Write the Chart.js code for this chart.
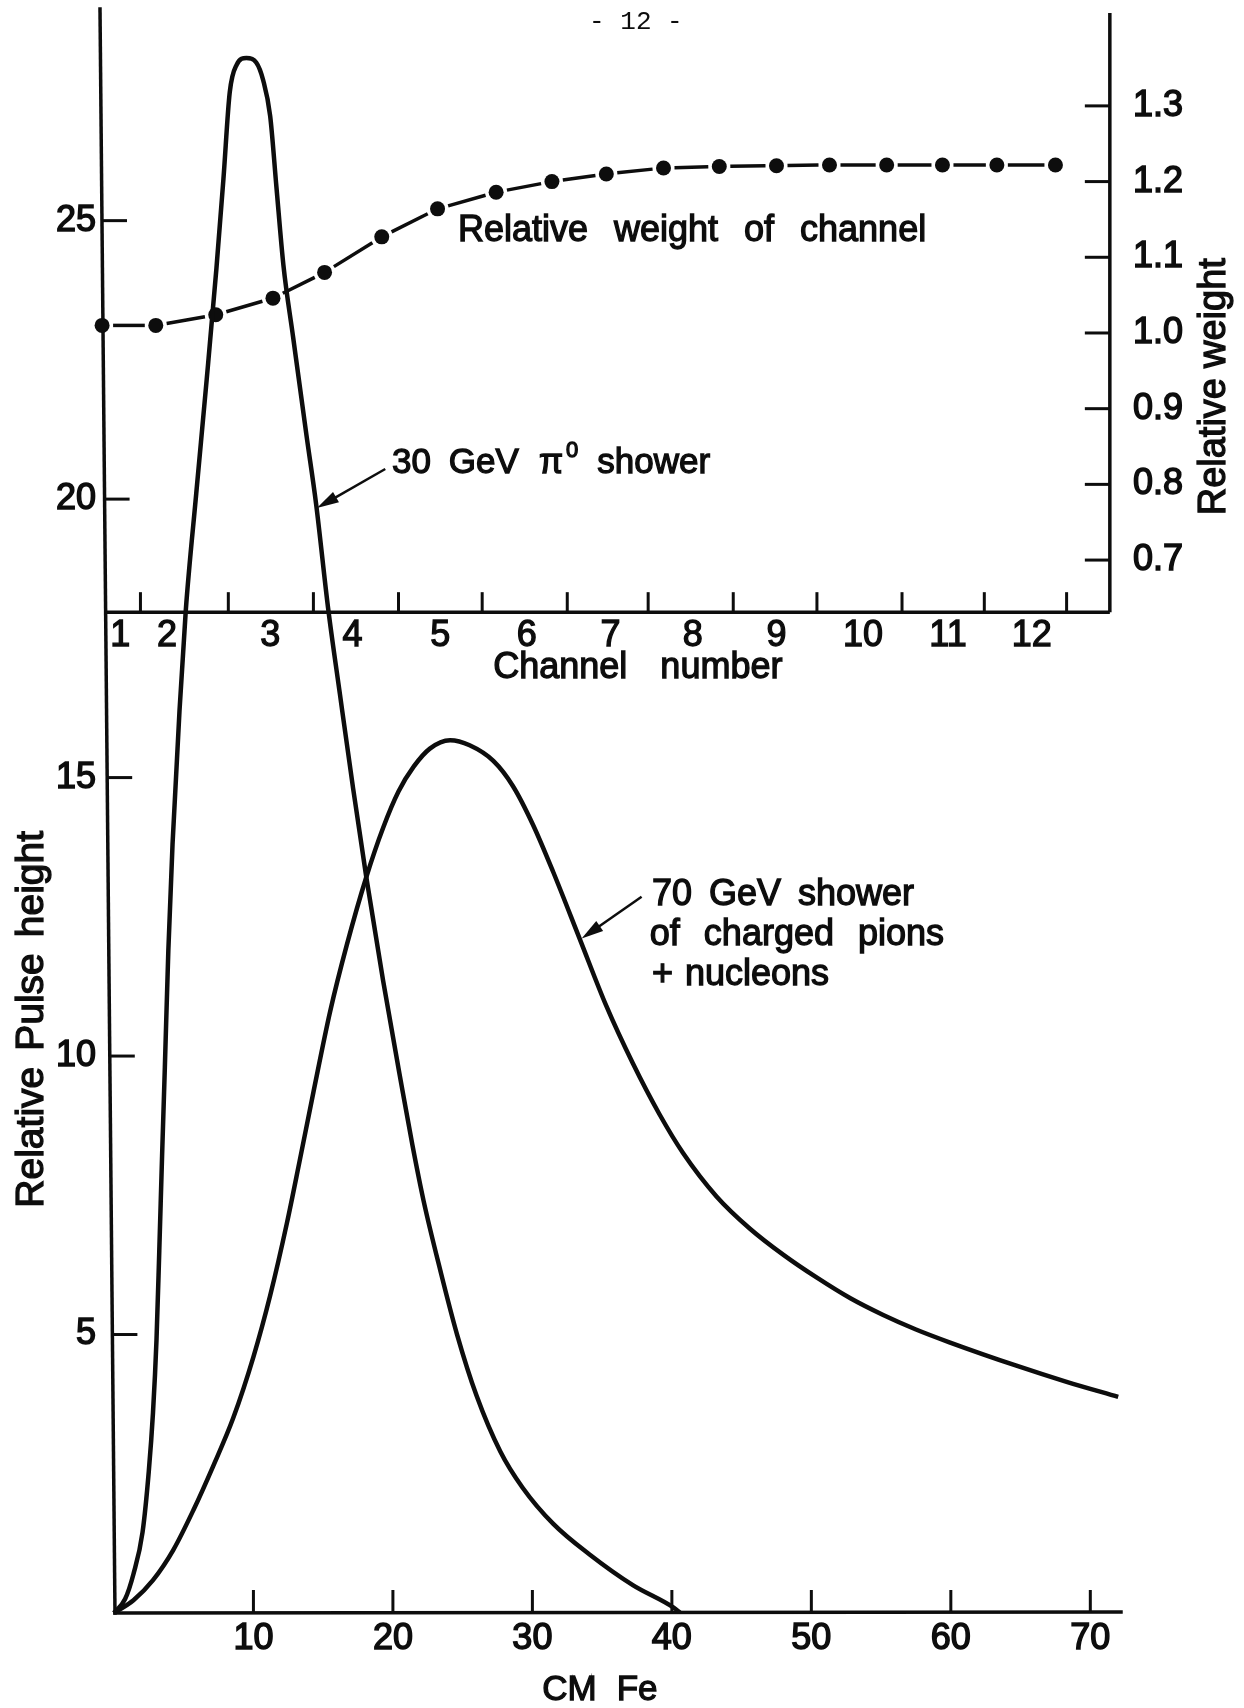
<!DOCTYPE html>
<html lang="en">
<head>
<meta charset="utf-8">
<title>Relative pulse height along the Fe absorber</title>
<script src="https://cdn.jsdelivr.net/npm/chart.js@4.4.1/dist/chart.umd.min.js"></script>
<style>
  html, body { margin: 0; padding: 0; background: #ffffff; }
  canvas { display: block; }
</style>
</head>
<body>
<canvas id="chart" width="1244" height="1708"></canvas>
<script>
  "use strict";

  // ---- values ----

  // 30 GeV pi0 shower: depth (CM Fe) / relative pulse height
  var pi0Depth = [0, 0.8, 1.4, 2.05, 2.5, 2.8, 3.05, 3.25, 3.45, 3.65, 3.9, 4.2, 4.7, 5.15, 5.9, 6.65, 7.35, 7.85, 8.3, 8.8, 9.5,
                  10.2, 10.7, 11.2, 11.65, 12.15, 12.85, 13.8, 14.5, 15.35, 16.2, 17.15, 18.1, 19.3, 20.6, 21.4, 22.2,
                  23.4, 24.6, 26.0, 27.7, 29.3, 31.5, 34.1, 37.2, 40.1, 40.6];
  var pi0Pulse = [0, 0.25, 0.7, 1.45, 2.55, 3.6, 4.9, 6.5, 8.2, 9.8, 11.9, 13.8, 16.2, 18.0, 20.1, 22.15, 24.15, 25.75, 27.3, 27.8, 27.92,
                  27.84, 27.52, 26.88, 25.6, 24.2, 22.9, 21.15, 19.9, 18.05, 16.5, 14.8, 13.2, 11.35, 9.5, 8.4, 7.4,
                  6.15, 5.0, 3.9, 2.9, 2.25, 1.6, 1.05, 0.5, 0.1, 0];

  // 70 GeV shower of charged pions + nucleons
  var hadDepth = [0, 1.4, 2.8, 4.25, 5.7, 7.1, 8.55, 10.0, 11.2, 12.4, 13.3, 14.3, 15.5, 16.7, 18.1, 19.3, 20.4, 21.5, 22.65, 24.1,
                  25.5, 27.2, 28.6, 30.05, 31.5, 33.4, 35.3, 37.2, 39.1, 40.8, 43.2, 45.6, 48.0, 50.4, 52.8, 55.15, 57.5, 59.9,
                  64.7, 68.3, 72.0];
  var hadPulse = [0, 0.23, 0.59, 1.13, 1.85, 2.63, 3.5, 4.6, 5.7, 7.0, 8.1, 9.35, 10.8, 12.0, 13.22, 14.1, 14.75, 15.2, 15.52, 15.67,
                  15.58, 15.3, 14.85, 14.15, 13.3, 12.1, 10.9, 9.87, 8.96, 8.26, 7.48, 6.9, 6.43, 6.02, 5.65, 5.35, 5.09, 4.86,
                  4.44, 4.15, 3.88];

  // relative weight of channel (dots), placed along the same depth
  var weightDepth = [-0.85, 3.0, 7.3, 11.4, 15.1, 19.2, 23.2, 27.4, 31.4, 35.3, 39.4, 43.4, 47.5, 51.3, 55.4, 59.4, 63.3, 67.5];
  var weightValue = [1.01, 1.01, 1.024, 1.046, 1.08, 1.127, 1.164, 1.186, 1.2, 1.21, 1.218, 1.22, 1.221, 1.222, 1.222, 1.222, 1.222, 1.222];

  // inset channel axis: tick marks at the channel edges, numbers in the channels
  var channelEdges = [1.9, 8.2, 14.3, 20.4, 26.4, 32.5, 38.3, 44.4, 50.4, 56.5, 62.4, 68.3];
  var channelMiddles = [0.45, 3.8, 11.2, 17.1, 23.4, 29.6, 35.6, 41.5, 47.5, 53.7, 59.8, 65.8];
  var channelLabels = ['1', '2', '3', '4', '5', '6', '7', '8', '9', '10', '11', '12'];

  // tick labels
  var depthTicks = [10, 20, 30, 40, 50, 60, 70];
  var pulseTicks = [5, 10, 15, 20, 25];
  var weightTicks = [0.7, 0.8, 0.9, 1.0, 1.1, 1.2, 1.3];

  // ---- look ----
  var INK = '#0d0d0d';
  var FONT = '"Liberation Sans", Arial, Helvetica, sans-serif';
  var insetFloor = 17.97;   // inset "Channel number" axis sits at this pulse height
  var insetEnd = 71.4;      // inset right axis (Relative weight) sits at this depth
  var dotGap = 11;          // dashes stop short of each dot

  function points(xs, ys) {
    return xs.map(function(x, i) { return { x: x, y: ys[i] }; });
  }

  function segLen(c) {
    return Math.hypot(c.p1.x - c.p0.x, c.p1.y - c.p0.y);
  }

  function fixedTicks(list) {
    return function(scale) {
      scale.ticks = list.map(function(v) { return { value: v }; });
    };
  }

  // fixed axis boxes, no extra room for half labels at the ends
  function boxFit(prop, size) {
    return function(scale) {
      scale[prop] = size;
      scale.paddingTop = 0;
      scale.paddingBottom = 0;
      scale.paddingLeft = 0;
      scale.paddingRight = 0;
    };
  }

  /** draw words one by one so the wide word gaps of the original can be kept */
  function drawWords(ctx, text, x, y, gap) {
    text.split(' ').forEach(function(w) {
      ctx.fillText(w, x, y);
      ctx.strokeText(w, x, y);
      x += ctx.measureText(w).width + gap;
    });
    return x;
  }

  function wordsWidth(ctx, text, gap) {
    var parts = text.split(' ');
    return parts.reduce(function(s, w) { return s + ctx.measureText(w).width; }, 0) + gap * (parts.length - 1);
  }

  function arrow(ctx, x1, y1, x2, y2) {
    var ang = Math.atan2(y2 - y1, x2 - x1);
    var head = 22, half = 6;
    ctx.lineWidth = 2.5;
    ctx.beginPath();
    ctx.moveTo(x1, y1);
    ctx.lineTo(x2 - Math.cos(ang) * head * 0.8, y2 - Math.sin(ang) * head * 0.8);
    ctx.stroke();
    ctx.beginPath();
    ctx.moveTo(x2, y2);
    ctx.lineTo(x2 - Math.cos(ang) * head - Math.sin(ang) * half, y2 - Math.sin(ang) * head + Math.cos(ang) * half);
    ctx.lineTo(x2 - Math.cos(ang) * head + Math.sin(ang) * half, y2 - Math.sin(ang) * head - Math.cos(ang) * half);
    ctx.closePath();
    ctx.fill();
  }

  var paperPlugin = {
    id: 'paper',
    beforeDatasetsDraw: function(chart) {
      var ctx = chart.ctx;
      var a = chart.chartArea;
      var sx = chart.scales.x, sy = chart.scales.y, sw = chart.scales.y2;
      var lean = 15; // the hand-drawn left axis leans a little
      function axisX(py) { return a.left + lean * (py - a.top) / (a.bottom - a.top); }
      function seg(x1, y1, x2, y2) { ctx.beginPath(); ctx.moveTo(x1, y1); ctx.lineTo(x2, y2); ctx.stroke(); }

      ctx.save();
      ctx.strokeStyle = INK;
      ctx.lineCap = 'square';
      ctx.lineWidth = 3.5;
      seg(a.left, a.top, axisX(a.bottom), a.bottom);
      seg(axisX(a.bottom), a.bottom, a.right, a.bottom - 1);

      ctx.lineCap = 'butt';
      ctx.lineWidth = 3;
      pulseTicks.forEach(function(v) {
        var py = sy.getPixelForValue(v);
        seg(axisX(py), py, axisX(py) + 25, py);
      });
      depthTicks.forEach(function(v) {
        var px = sx.getPixelForValue(v);
        seg(px, a.bottom, px, a.bottom - 23);
      });

      // inset frame: channel axis and relative weight axis
      var iy = sy.getPixelForValue(insetFloor);
      var ix = sx.getPixelForValue(insetEnd);
      ctx.lineWidth = 3.5;
      seg(axisX(iy), iy, ix, iy);
      seg(ix, iy, ix, a.top + 4);
      ctx.lineWidth = 3;
      channelEdges.forEach(function(v) {
        var px = sx.getPixelForValue(v);
        seg(px, iy, px, iy - 20);
      });
      weightTicks.forEach(function(v) {
        var py = sw.getPixelForValue(v);
        seg(ix, py, ix - 25, py);
      });
      ctx.restore();
    },

    afterDatasetsDraw: function(chart) {
      var ctx = chart.ctx;
      var a = chart.chartArea;
      var sx = chart.scales.x, sy = chart.scales.y, sw = chart.scales.y2;
      var iy = sy.getPixelForValue(insetFloor);

      ctx.save();
      ctx.fillStyle = INK;
      ctx.strokeStyle = INK;
      ctx.lineWidth = 1.3;

      // channel numbers
      ctx.font = '36px ' + FONT;
      ctx.textAlign = 'center';
      ctx.textBaseline = 'middle';
      channelLabels.forEach(function(t, i) {
        var px = sx.getPixelForValue(channelMiddles[i]);
        ctx.fillText(t, px, iy + 24);
        ctx.strokeText(t, px, iy + 24);
      });

      ctx.textAlign = 'left';
      var w = wordsWidth(ctx, 'Channel number', 33);
      drawWords(ctx, 'Channel number', sx.getPixelForValue(37.56) - w / 2, iy + 56, 33);

      // x axis title
      ctx.font = '35px ' + FONT;
      w = wordsWidth(ctx, 'CM Fe', 20);
      drawWords(ctx, 'CM Fe', sx.getPixelForValue(34.84) - w / 2, a.bottom + 77, 20);

      // left axis title
      ctx.save();
      ctx.font = '39px ' + FONT;
      ctx.translate(a.left - 68, sy.getPixelForValue(10.66));
      ctx.rotate(-Math.PI / 2);
      w = wordsWidth(ctx, 'Relative Pulse height', 16);
      drawWords(ctx, 'Relative Pulse height', -w / 2, 0, 16);
      ctx.restore();

      // right (inset) axis title
      ctx.save();
      ctx.font = '38px ' + FONT;
      ctx.translate(a.right + 94, sw.getPixelForValue(0.929));
      ctx.rotate(-Math.PI / 2);
      w = wordsWidth(ctx, 'Relative weight', 10);
      drawWords(ctx, 'Relative weight', -w / 2, 0, 10);
      ctx.restore();

      // curve notes
      ctx.font = '36px ' + FONT;
      ctx.textBaseline = 'alphabetic';
      drawWords(ctx, 'Relative weight of channel', sx.getPixelForValue(24.66), sy.getPixelForValue(24.63), 26);
      drawWords(ctx, '70 GeV shower', sx.getPixelForValue(38.57), sy.getPixelForValue(12.71), 17);
      drawWords(ctx, 'of charged pions', sx.getPixelForValue(38.42), sy.getPixelForValue(11.99), 24);
      drawWords(ctx, '+ nucleons', sx.getPixelForValue(38.57), sy.getPixelForValue(11.27), 12);

      // "30 GeV pi0 shower" with the superscript
      ctx.font = '35px ' + FONT;
      var bx = sx.getPixelForValue(19.93), by = sy.getPixelForValue(20.47);
      bx = drawWords(ctx, '30 GeV', bx, by, 18);
      bx += 2;
      ctx.fillText('\u03c0', bx, by);
      ctx.strokeText('\u03c0', bx, by);
      bx += ctx.measureText('\u03c0').width + 3;
      ctx.font = '22px ' + FONT;
      ctx.fillText('0', bx, by - 16);
      ctx.strokeText('0', bx, by - 16);
      bx += ctx.measureText('0').width + 19;
      ctx.font = '35px ' + FONT;
      drawWords(ctx, 'shower', bx, by, 16);

      // arrows to the curves
      arrow(ctx, sx.getPixelForValue(19.45), sy.getPixelForValue(20.54), sx.getPixelForValue(14.55), sy.getPixelForValue(19.84));
      arrow(ctx, sx.getPixelForValue(37.83), sy.getPixelForValue(12.86), sx.getPixelForValue(33.53), sy.getPixelForValue(12.11));

      // page number
      ctx.font = '26px "Liberation Mono", "DejaVu Sans Mono", monospace';
      ctx.textAlign = 'center';
      ctx.textBaseline = 'middle';
      ctx.fillText('- 12 -', sx.getPixelForValue(37.42), a.top + 13);
      ctx.restore();
    }
  };

  var tickFont = { family: FONT, size: 36 };

  new Chart(document.getElementById('chart'), {
    type: 'line',
    data: {
      datasets: [{
        label: '30 GeV \u03c0\u2070 shower',
        data: points(pi0Depth, pi0Pulse),
        xAxisID: 'x',
        yAxisID: 'y',
        borderColor: INK,
        borderWidth: 4.5,
        pointRadius: 0,
        cubicInterpolationMode: 'monotone',
        fill: false
      }, {
        label: '70 GeV shower of charged pions + nucleons',
        data: points(hadDepth, hadPulse),
        xAxisID: 'x',
        yAxisID: 'y',
        borderColor: INK,
        borderWidth: 4.5,
        pointRadius: 0,
        cubicInterpolationMode: 'monotone',
        fill: false
      }, {
        label: 'Relative weight of channel',
        data: points(weightDepth, weightValue),
        xAxisID: 'x',
        yAxisID: 'y2',
        borderColor: INK,
        borderWidth: 3.5,
        pointRadius: 7.5,
        pointBackgroundColor: INK,
        pointBorderWidth: 0,
        tension: 0,
        clip: false,
        fill: false,
        segment: {
          // one dash per gap between dots
          borderDash: function(c) { return [Math.max(segLen(c) - 2 * dotGap, 0), 2000]; },
          borderDashOffset: function(c) {
            var period = Math.max(segLen(c) - 2 * dotGap, 0) + 2000;
            return period * (c.p0DataIndex + 1) - dotGap;
          }
        }
      }]
    },
    options: {
      responsive: false,
      animation: false,
      devicePixelRatio: 1,
      layout: { padding: { top: 9, left: 0, right: 0, bottom: 0 } },
      plugins: {
        legend: { display: false },
        title: { display: false },
        tooltip: { enabled: false }
      },
      scales: {
        x: {
          type: 'linear',
          min: -1,
          max: 72.2,
          grid: { display: false, drawTicks: false },
          border: { display: false },
          afterBuildTicks: fixedTicks(depthTicks),
          afterFit: boxFit('height', 95),
          ticks: { font: tickFont, color: INK, padding: 4, maxRotation: 0, autoSkip: false, textStrokeColor: INK, textStrokeWidth: 1.5 }
        },
        y: {
          type: 'linear',
          position: 'left',
          min: 0,
          max: 28.8,
          grid: { display: false, drawTicks: false },
          border: { display: false },
          afterBuildTicks: fixedTicks(pulseTicks),
          afterFit: boxFit('width', 100),
          ticks: { font: tickFont, color: INK, padding: 4, textStrokeColor: INK, textStrokeWidth: 1.5 }
        },
        y2: {
          type: 'linear',
          position: 'right',
          min: -0.691,
          max: 1.428,
          grid: { display: false, drawTicks: false },
          border: { display: false },
          afterBuildTicks: fixedTicks(weightTicks),
          afterFit: boxFit('width', 123),
          ticks: {
            font: tickFont, color: INK, padding: 12, textStrokeColor: INK, textStrokeWidth: 1.5,
            callback: function(v) { return v.toFixed(1); }
          }
        }
      }
    },
    plugins: [paperPlugin]
  });
</script>
</body>
</html>
